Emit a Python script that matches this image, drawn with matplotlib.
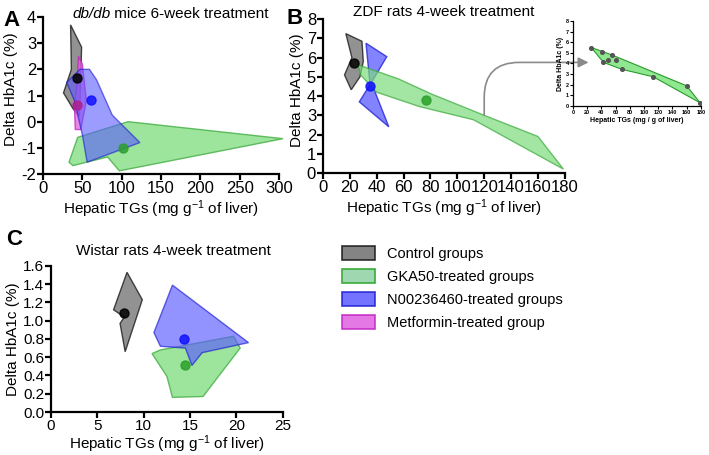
import matplotlib

matplotlib.use("Agg")
import matplotlib.pyplot as plt
from matplotlib.patches import Polygon, Patch
from matplotlib.ticker import FormatStrFormatter

plt.rcParams["font.family"] = ["Liberation Sans", "DejaVu Sans"]
plt.rcParams["mathtext.fontset"] = "custom"
plt.rcParams["mathtext.rm"] = "Liberation Sans"
plt.rcParams["mathtext.it"] = "Liberation Sans:italic"
plt.rcParams["mathtext.default"] = "regular"
plt.rcParams["axes.unicode_minus"] = False

# colours: (fill, edge, point)
CTRL = ("#6e6e6e", "#111111", "#000000")
GKA = ("#7ddc7d", "#3aaa3a", "#2ca02c")
N002 = ("#5a5aff", "#1a1ad0", "#1010ff")
METF = ("#e060e0", "#c020c0", "#b0208f")

# Panel A: db/db mice (hull vertices and group means)
a_ctrl = [(35, 3.7), (49, 2.85), (47, 0.7), (46, 0.2), (38, 0.5), (26, 1.1), (36, 2.0)]
a_metf = [(45, 2.5), (50, 2.2), (55, 0.8), (48, -0.3), (41, -0.3), (40, 0.5), (42, 1.2), (44, 1.9)]
a_n002 = [(30, 1.5), (47, 2.0), (59, 2.0), (68, 1.6), (88, 0.25), (123, -0.8), (56, -1.55), (50, -0.5), (40, 0.8)]
a_gka = [(33, -1.55), (44, -0.6), (108, 0.0), (305, -0.65), (97, -1.88), (82, -1.35), (38, -1.68)]
a_means = {"ctrl": (43, 1.66), "metf": (43, 0.64), "n002": (61, 0.83), "gka": (101, -1.02)}

# Panel B: ZDF rats
b_ctrl = [(17, 7.25), (29, 6.85), (30, 5.8), (27.5, 5.0), (21, 4.33), (16, 5.1), (21.5, 6.0)]
b_n002 = [(32, 6.75), (47.5, 6.05), (36, 4.7), (49, 2.4), (27, 3.7), (35, 4.6)]
b_gka = [(26, 5.63), (56, 4.9), (81, 4.1), (120, 3.0), (160, 1.9), (179, 0.2),
         (112, 2.77), (72, 3.45), (40, 4.2), (28, 5.1)]
b_means = {"ctrl": (23.3, 5.71), "n002": (34.7, 4.54), "gka": (76.5, 3.78)}

# Inset: individual GKA50 animals (ZDF)
ins_tg = [26, 41, 55, 60, 50, 43, 69, 113, 160, 179]
ins_hba1c = [5.5, 5.1, 4.8, 4.3, 4.3, 4.1, 3.45, 2.75, 1.9, 0.3]
ins_hull = [0, 2, 8, 9, 7, 6, 5]

# Panel C: Wistar rats
c_ctrl = [(8.2, 1.53), (9.85, 1.23), (8.0, 0.66), (7.45, 0.97), (7.9, 1.04), (6.75, 1.12)]
c_n002 = [(13.1, 1.39), (21.3, 0.76), (16.3, 0.65), (15.2, 0.51), (14.5, 0.70), (11.8, 0.72), (11.1, 0.87)]
c_gka = [(10.9, 0.64), (11.8, 0.68), (19.7, 0.83), (20.4, 0.70), (16.4, 0.17), (13.1, 0.16), (12.5, 0.39)]
c_means = {"ctrl": (7.88, 1.087), "n002": (14.3, 0.80), "gka": (14.4, 0.51)}

legend_labels = ["Control groups", "GKA50-treated groups",
                 "N00236460-treated groups", "Metformin-treated group"]

XLABEL = r"Hepatic TGs (mg g$^{-1}$ of liver)"
YLABEL = "Delta HbA1c (%)"


def add_poly(ax, verts, colors, alpha=0.75):
    ax.add_patch(Polygon(verts, closed=True, facecolor=colors[0], edgecolor=colors[1],
                         alpha=alpha, lw=1.0, clip_on=False))


def style_axes(ax, size=12):
    for s in ("top", "right"):
        ax.spines[s].set_visible(False)
    for s in ("left", "bottom"):
        ax.spines[s].set_linewidth(1.6)
    ax.tick_params(width=1.6, length=4, labelsize=size, pad=1)


fig = plt.figure(figsize=(7.09, 4.55), dpi=100)

# ---- A
ax_a = fig.add_axes([0.0607, 0.6176, 0.333, 0.345])
add_poly(ax_a, a_gka, GKA)
add_poly(ax_a, a_ctrl, CTRL)
add_poly(ax_a, a_metf, METF)
add_poly(ax_a, a_n002, N002, alpha=0.6)
for key, col in (("ctrl", CTRL), ("metf", METF), ("n002", N002), ("gka", GKA)):
    ax_a.plot(*a_means[key], "o", color=col[2], ms=6.5, zorder=5, alpha=0.85)
ax_a.set_xlim(0, 300)
ax_a.set_ylim(-2, 4)
ax_a.set_xticks(range(0, 301, 50))
ax_a.set_yticks(range(-2, 5))
style_axes(ax_a)
ax_a.set_xlabel(XLABEL, fontsize=11, labelpad=2)
ax_a.set_ylabel(YLABEL, fontsize=11, labelpad=2, y=0.54)
# title with italic strain name, built from two pieces
t_it = ax_a.text(0.123, 0.995, "db/db", style="italic", fontsize=11,
                 transform=ax_a.transAxes, ha="left", va="baseline")
ax_a.annotate(" mice 6-week treatment", xy=(1, 0), xycoords=t_it, fontsize=11,
              ha="left", va="bottom")

# ---- B
ax_b = fig.add_axes([0.4556, 0.6198, 0.341, 0.338])
add_poly(ax_b, b_ctrl, CTRL)
add_poly(ax_b, b_n002, N002)
add_poly(ax_b, b_gka, GKA, alpha=0.7)
for key, col in (("ctrl", CTRL), ("n002", N002), ("gka", GKA)):
    ax_b.plot(*b_means[key], "o", color=col[2], ms=6.5, zorder=5, alpha=0.85)
ax_b.set_xlim(0, 180)
ax_b.set_ylim(0, 8)
ax_b.set_xticks(range(0, 181, 20))
ax_b.set_yticks(range(0, 9))
style_axes(ax_b)
ax_b.set_xlabel(XLABEL, fontsize=11, labelpad=2)
ax_b.set_ylabel(YLABEL, fontsize=11, labelpad=2, y=0.54)
ax_b.set_title("ZDF rats 4-week treatment", fontsize=11, pad=1)

# ---- inset
ax_in = fig.add_axes([0.808, 0.767, 0.1805, 0.187])
ax_in.patch.set_visible(False)
ax_in.add_patch(Polygon([(ins_tg[i], ins_hba1c[i]) for i in ins_hull], closed=True,
                        facecolor="#8fe88f", edgecolor="#2a9a2a", lw=0.8))
ax_in.scatter(ins_tg, ins_hba1c, s=7, color="#555555", zorder=3)
ax_in.set_xlim(0, 180)
ax_in.set_ylim(0, 8)
ax_in.set_xticks(range(0, 181, 20))
ax_in.set_yticks(range(0, 9))
for s in ("top", "right"):
    ax_in.spines[s].set_visible(False)
for s in ("left", "bottom"):
    ax_in.spines[s].set_linewidth(0.9)
ax_in.tick_params(width=0.8, length=2, labelsize=4, pad=1)
for lbl in ax_in.get_xticklabels() + ax_in.get_yticklabels():
    lbl.set_fontweight("bold")
ax_in.set_xlabel("Hepatic TGs (mg / g of liver)", fontsize=5, fontweight="bold", labelpad=1)
ax_in.set_ylabel("Delta HbA1c (%)", fontsize=5, fontweight="bold", labelpad=1)

ax_b.annotate("", xy=(22, 4.1), xycoords=ax_in.transData, xytext=(120, 3.0), textcoords="data",
              annotation_clip=False,
              arrowprops=dict(arrowstyle="-|>,head_length=0.6,head_width=0.3", color="#8a8a8a",
                              lw=1.2, shrinkA=0, shrinkB=0,
                              connectionstyle="angle,angleA=90,angleB=0,rad=35"))

# ---- C
ax_c = fig.add_axes([0.0719, 0.0945, 0.327, 0.321])
add_poly(ax_c, c_ctrl, CTRL)
add_poly(ax_c, c_gka, GKA)
add_poly(ax_c, c_n002, N002, alpha=0.65)
for key, col in (("ctrl", CTRL), ("n002", N002), ("gka", GKA)):
    ax_c.plot(*c_means[key], "o", color=col[2], ms=6.5, zorder=5, alpha=0.85)
ax_c.set_xlim(0, 25)
ax_c.set_ylim(0, 1.6)
ax_c.set_xticks(range(0, 26, 5))
ax_c.set_yticks([i / 5 for i in range(0, 9)])
ax_c.yaxis.set_major_formatter(FormatStrFormatter("%.1f"))
style_axes(ax_c, size=11)
ax_c.set_xlabel(XLABEL, fontsize=11, labelpad=0)
ax_c.set_ylabel(YLABEL, fontsize=11, labelpad=2)
ax_c.set_title("Wistar rats 4-week treatment", fontsize=11, pad=8, x=0.53)

# panel letters
fig.text(0.005, 0.978, "A", fontsize=16, fontweight="bold", va="top")
fig.text(0.404, 0.982, "B", fontsize=16, fontweight="bold", va="top")
fig.text(0.008, 0.497, "C", fontsize=16, fontweight="bold", va="top")

# legend
handles = [Patch(facecolor=c[0], edgecolor=c[1], alpha=0.85, lw=1.2) for c in (CTRL, GKA, N002, METF)]
handles[1] = Patch(facecolor="#9fd8b0", edgecolor="#3aaa3a", lw=1.2)
fig.legend(handles, legend_labels, loc="upper left", bbox_to_anchor=(0.4635, 0.488), frameon=False,
           fontsize=10.5, handlelength=2.3, handleheight=1.1, handletextpad=0.8, labelspacing=0.55)

fig.savefig("out.png", dpi=100)
